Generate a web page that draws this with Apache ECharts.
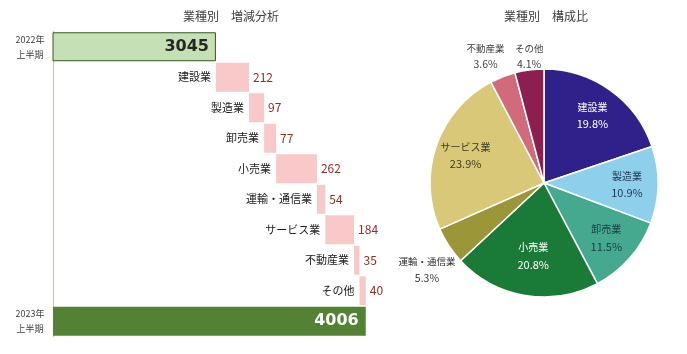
<!DOCTYPE html>
<html>
<head>
<meta charset="utf-8">
<script src="https://cdn.jsdelivr.net/npm/echarts@6/dist/echarts.min.js"></script>
<style>
  html, body { margin: 0; padding: 0; background: #fff; }
  #main { width: 687px; height: 354px; }
</style>
</head>
<body>
<div id="main"></div>
<script>
// waterfall (left)
var categories = ['2022年上半期', '建設業', '製造業', '卸売業', '小売業', '運輸・通信業', 'サービス業', '不動産業', 'その他', '2023年上半期'];
var tickLabels = ['2022年\n上半期', '', '', '', '', '', '', '', '', '2023年\n上半期'];
var totalStart = 3045;
var totalEnd = 4006;
var deltas = [212, 97, 77, 262, 54, 184, 35, 40];

// composition (right)
var pieNames = ['建設業', '製造業', '卸売業', '小売業', '運輸・通信業', 'サービス業', '不動産業', 'その他'];
var pieShares = [19.8, 10.9, 11.5, 20.8, 5.3, 23.9, 3.6, 4.1];

var pieColors = ['#30218a', '#8ed0ec', '#45a98f', '#1a7a38', '#9b9638', '#d9c878', '#d16b7b', '#8c1f4f'];
var pieLabelColors = ['#ffffff', '#1f3354', '#1f3a44', '#ffffff', '#333333', '#3a3a22', '#404040', '#404040'];
// small label nudges so the labels sit where the original put them
var labelNudgeX = [0, 0, 0, 3, -1, 0, -8, 3];
var labelNudgeY = [0, 0, 0, -9, 10, 0, 3, 11];

var font = '"Noto Sans CJK JP", "Noto Sans", sans-serif';

// build stacked waterfall columns
var baseData = ['-'];
var deltaData = ['-'];
var run = totalStart;
deltas.forEach(function (d) {
    baseData.push(run);
    deltaData.push(d);
    run += d;
});
baseData.push('-');
deltaData.push('-');

var totalData = categories.map(function () { return '-'; });
totalData[0] = {
    value: totalStart,
    itemStyle: { color: '#c5e0b4', borderColor: '#385723', borderWidth: 1 },
    label: { color: '#262626' }
};
totalData[categories.length - 1] = {
    value: totalEnd,
    itemStyle: { color: '#548235' },
    label: { color: '#ffffff' }
};

var bigData = pieNames.map(function (n, i) {
    return { name: n, value: pieShares[i], label: { show: pieShares[i] >= 6, color: pieLabelColors[i] } };
});
var smallData = pieNames.map(function (n, i) {
    return { name: n, value: pieShares[i], label: { show: pieShares[i] < 6, color: pieLabelColors[i] } };
});

function nudge(p) {
    return { dx: labelNudgeX[p.dataIndex], dy: labelNudgeY[p.dataIndex], hideOverlap: false };
}

var myChart = echarts.init(document.getElementById('main'));
var option = {
    animation: false,
    textStyle: { fontFamily: font },
    title: [
        { text: '業種別　増減分析', left: 226, top: 5, textAlign: 'center',
          textStyle: { fontSize: 12, fontWeight: 'normal', color: '#404040', fontFamily: font } },
        { text: '業種別　構成比', left: 541, top: 5, textAlign: 'center',
          textStyle: { fontSize: 12, fontWeight: 'normal', color: '#404040', fontFamily: font } }
    ],
    grid: { left: 53, top: 31.5, width: 343, height: 305 },
    xAxis: { type: 'value', min: 2000, max: 4200, show: false },
    yAxis: {
        type: 'category',
        data: categories,
        inverse: true,
        axisLine: { show: true, lineStyle: { color: '#c3c7ae', width: 1 } },
        axisTick: { show: false },
        axisLabel: {
            formatter: function (v, i) { return tickLabels[i]; },
            align: 'center', margin: 23,
            fontSize: 9, lineHeight: 15, color: '#404040'
        }
    },
    series: [
        {
            type: 'bar', stack: 'w', data: baseData,
            barCategoryGap: '5%',
            itemStyle: { color: 'transparent' },
            silent: true,
            label: {
                show: true, position: 'insideRight', distance: 5,
                formatter: function (p) { return categories[p.dataIndex]; },
                fontSize: 11, color: '#1a1a1a'
            }
        },
        {
            type: 'bar', stack: 'w', data: deltaData,
            barCategoryGap: '5%',
            itemStyle: { color: '#f9c9c9' },
            label: {
                show: true, position: 'right', distance: 4,
                fontSize: 12, color: '#8e2b2b'
            }
        },
        {
            type: 'bar', stack: 'w', data: totalData,
            barCategoryGap: '5%',
            label: {
                show: true, position: 'insideRight', distance: 7,
                fontSize: 16, fontWeight: 'bold', fontFamily: '"DejaVu Sans", sans-serif'
            }
        },
        {
            type: 'pie', center: [544, 183], radius: [0, 114],
            startAngle: 90, clockwise: true,
            data: pieNames.map(function (n, i) {
                return { name: n, value: pieShares[i], itemStyle: { color: pieColors[i] } };
            }),
            itemStyle: { borderColor: '#ffffff', borderWidth: 1.5 },
            label: { show: false }, labelLine: { show: false },
            emphasis: { disabled: true }
        },
        {
            type: 'pie', center: [544, 183], radius: [46, 114],
            startAngle: 90, clockwise: true, silent: true,
            avoidLabelOverlap: false,
            data: bigData,
            itemStyle: { color: 'transparent', borderWidth: 0 },
            label: {
                position: 'inside', formatter: '{n|{b}}\n{v|{c}%}',
                rich: {
                    n: { fontSize: 10, lineHeight: 17 },
                    v: { fontSize: 11, lineHeight: 17 }
                }
            },
            labelLayout: nudge,
            labelLine: { show: false },
            emphasis: { disabled: true }
        },
        {
            type: 'pie', center: [544, 183], radius: [114, 158],
            startAngle: 90, clockwise: true, silent: true,
            avoidLabelOverlap: false,
            data: smallData,
            itemStyle: { color: 'transparent', borderWidth: 0 },
            label: {
                position: 'inside', formatter: '{n|{b}}\n{v|{c}%}',
                rich: {
                    n: { fontSize: 9.5, lineHeight: 16 },
                    v: { fontSize: 10.5, lineHeight: 16 }
                }
            },
            labelLayout: nudge,
            labelLine: { show: false },
            emphasis: { disabled: true }
        }
    ]
};
myChart.setOption(option);
</script>
</body>
</html>
